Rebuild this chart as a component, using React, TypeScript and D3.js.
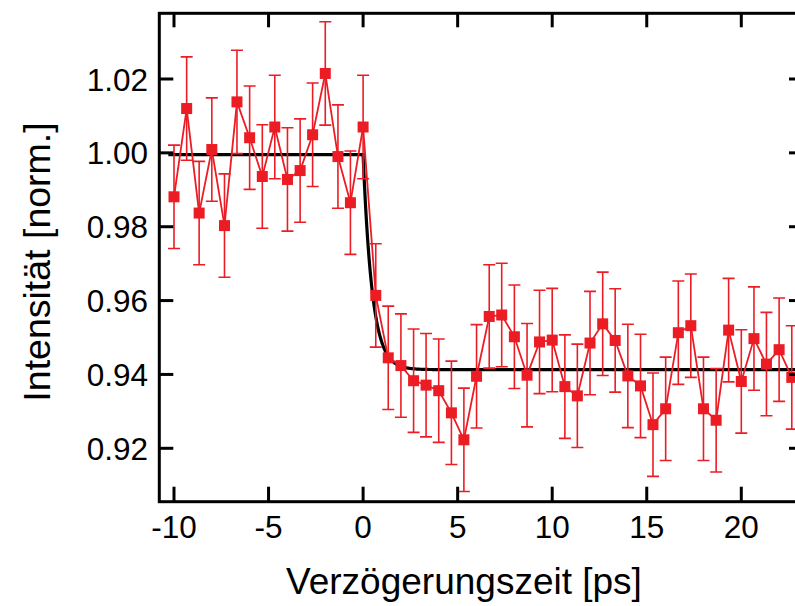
import React from "react";
import * as d3 from "d3";

const times = [
  -10.0, -9.33, -8.67, -8.0, -7.33, -6.67, -6.0, -5.33, -4.67, -4.0,
  -3.33, -2.67, -2.0, -1.33, -0.67, 0.0, 0.67, 1.33, 2.0, 2.67,
  3.33, 4.0, 4.67, 5.33, 6.0, 6.67, 7.33, 8.0, 8.67, 9.33,
  10.0, 10.67, 11.33, 12.0, 12.67, 13.33, 14.0, 14.67, 15.33, 16.0,
  16.67, 17.33, 18.0, 18.67, 19.33, 20.0, 20.67, 21.33, 22.0, 22.67,
];

const intensity = [
  0.9881, 1.012, 0.9837, 1.0009, 0.9803, 1.0138, 1.0041, 0.9936, 1.007, 0.9928,
  0.9952, 1.0049, 1.0215, 0.999, 0.9865, 1.007, 0.9614, 0.9445, 0.9424, 0.9383,
  0.9371, 0.9356, 0.9296, 0.9223, 0.9395, 0.9557, 0.9561, 0.9502, 0.9398, 0.9488,
  0.9493, 0.9367, 0.9342, 0.9485, 0.9537, 0.9492, 0.9396, 0.9369, 0.9264, 0.9307,
  0.9513, 0.9532, 0.9307, 0.9276, 0.952, 0.9381, 0.9497, 0.9428, 0.9467, 0.9392,
];

const errors = [
  0.014, 0.014, 0.014, 0.014, 0.014, 0.014, 0.014, 0.014, 0.014, 0.014,
  0.014, 0.014, 0.014, 0.014, 0.014, 0.014, 0.014, 0.014, 0.014, 0.014,
  0.014, 0.014, 0.014, 0.014, 0.014, 0.014, 0.014, 0.014, 0.014, 0.014,
  0.014, 0.014, 0.014, 0.014, 0.014, 0.014, 0.014, 0.014, 0.014, 0.014,
  0.014, 0.014, 0.014, 0.014, 0.014, 0.014, 0.014, 0.014, 0.014, 0.014,
];

// fit parameters (step + exponential decay)
const fitBefore = 0.9995;
const fitAfter = 0.9413;
const fitTau = 0.48;
const fitStart = -10.3;
const fitEnd = 24;

const xTicks = [-10, -5, 0, 5, 10, 15, 20, 25];
const yTicks = [0.92, 0.94, 0.96, 0.98, 1.0, 1.02];

const xTitle = "Verzögerungszeit [ps]";
const yTitle = "Intensität [norm.]";

const W = 795;
const H = 606;
const left = 159.3;
const right = 803;
const top = 13.3;
const bottom = 501.7;

const RED = "#ec1c24";
const FONT = "'Liberation Sans', Arial, Helvetica, sans-serif";

export default function App() {
  const x = d3.scaleLinear().domain([-10, 20]).range([174, 741.3]);
  const y = d3.scaleLinear().domain([0.92, 1.02]).range([448.3, 79]);

  const data = times.map((t, i) => ({ t, v: intensity[i], e: errors[i] }));

  const fitFn = (t: number) =>
    t < 0 ? fitBefore : fitAfter + (fitBefore - fitAfter) * Math.exp(-t / fitTau);
  const fitTs = d3.range(fitStart, fitEnd, 0.02);
  fitTs.push(0);
  fitTs.sort((a, b) => a - b);
  const fitLine = d3
    .line<number>()
    .x((t) => x(t))
    .y((t) => y(fitFn(t)));

  const dataLine = d3
    .line<{ t: number; v: number }>()
    .x((d) => x(d.t))
    .y((d) => y(d.v));

  const ms = 11;
  const cap = 6;

  return (
    <svg
      width={W}
      height={H}
      style={{ position: "absolute", left: 0, top: 0, background: "#fff" }}
      fontFamily={FONT}
    >
      <rect x={0} y={0} width={W} height={H} fill="#fff" />
      <defs>
        <clipPath id="plot">
          <rect x={left} y={top} width={right - left} height={bottom - top} />
        </clipPath>
      </defs>

      <g clipPath="url(#plot)">
        <path d={fitLine(fitTs) || ""} fill="none" stroke="#000" strokeWidth={3.2} />
        {data.map((d, i) => (
          <g key={"e" + i} stroke={RED} strokeWidth={1.6}>
            <line x1={x(d.t)} x2={x(d.t)} y1={y(d.v - d.e)} y2={y(d.v + d.e)} />
            <line x1={x(d.t) - cap} x2={x(d.t) + cap} y1={y(d.v + d.e)} y2={y(d.v + d.e)} />
            <line x1={x(d.t) - cap} x2={x(d.t) + cap} y1={y(d.v - d.e)} y2={y(d.v - d.e)} />
          </g>
        ))}
        <path d={dataLine(data) || ""} fill="none" stroke={RED} strokeWidth={1.8} />
        {data.map((d, i) => (
          <rect
            key={"m" + i}
            x={x(d.t) - ms / 2}
            y={y(d.v) - ms / 2}
            width={ms}
            height={ms}
            fill={RED}
          />
        ))}
      </g>

      {/* frame */}
      <rect
        x={left}
        y={top}
        width={right - left}
        height={bottom - top}
        fill="none"
        stroke="#000"
        strokeWidth={3}
      />
      {xTicks.map((t) => (
        <g key={"xt" + t} stroke="#000" strokeWidth={3}>
          <line x1={x(t)} x2={x(t)} y1={bottom} y2={bottom - 15} />
          <line x1={x(t)} x2={x(t)} y1={top} y2={top + 14} />
        </g>
      ))}
      {yTicks.map((v) => (
        <g key={"yt" + v} stroke="#000" strokeWidth={3}>
          <line x1={left} x2={left + 14} y1={y(v)} y2={y(v)} />
          <line x1={right} x2={right - 14} y1={y(v)} y2={y(v)} />
        </g>
      ))}

      {xTicks
        .filter((t) => x(t) < W)
        .map((t) => (
          <text
            key={"xl" + t}
            x={x(t)}
            y={538}
            textAnchor="middle"
            fontSize={31.5}
            fill="#000"
          >
            {t}
          </text>
        ))}
      {yTicks.map((v) => (
        <text
          key={"yl" + v}
          x={148}
          y={y(v) + 11.5}
          textAnchor="end"
          fontSize={31.5}
          fill="#000"
        >
          {v.toFixed(2)}
        </text>
      ))}

      <text x={464} y={594} textAnchor="middle" fontSize={37} fill="#000">
        {xTitle}
      </text>
      <text
        transform={`translate(50, 262) rotate(-90)`}
        textAnchor="middle"
        fontSize={37.5}
        fill="#000"
      >
        {yTitle}
      </text>
    </svg>
  );
}
